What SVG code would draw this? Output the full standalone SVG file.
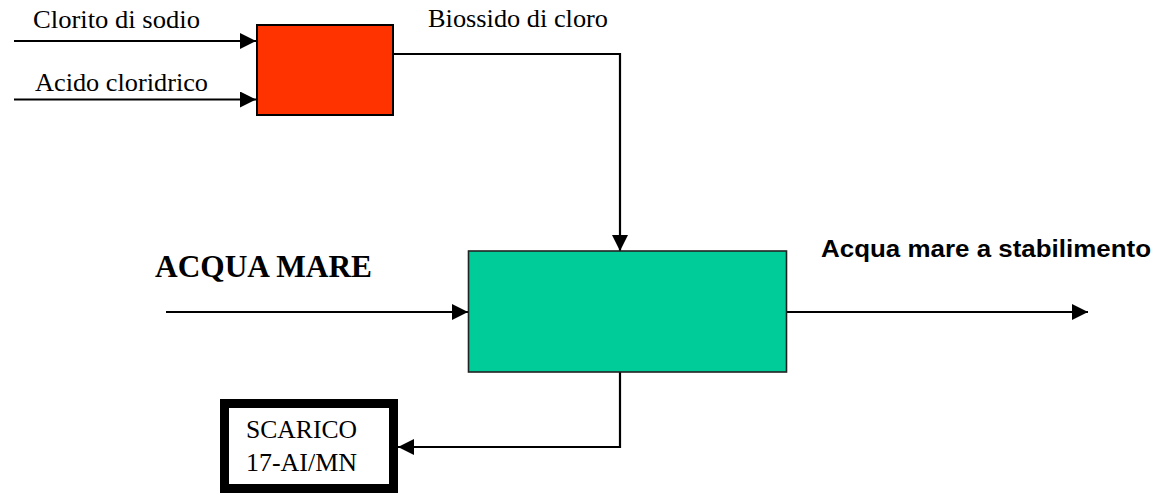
<svg xmlns="http://www.w3.org/2000/svg" width="1165" height="495" viewBox="0 0 1165 495">
<style>
.serif{font-family:"Liberation Serif","Times New Roman",serif;fill:#000}
.sans{font-family:"Liberation Sans",Arial,sans-serif;fill:#000}
.conn{fill:none;stroke:#000;stroke-width:2.2}
</style>
<defs>
<marker id="arr" markerUnits="userSpaceOnUse" markerWidth="17" markerHeight="17" refX="16" refY="8" orient="auto">
<path d="M0,0 L16,8 L0,16 z" fill="#000"/>
</marker>
</defs>
<rect width="1165" height="495" fill="#fff"/>
<g id="connectors">
<path class="conn" d="M14,41 L256,41" marker-end="url(#arr)"/>
<path class="conn" d="M14,99.5 L256,99.5" marker-end="url(#arr)"/>
<path class="conn" d="M393,54 L620,54 L620,251" marker-end="url(#arr)"/>
<path class="conn" d="M166,312 L468,312" marker-end="url(#arr)"/>
<path class="conn" d="M786,312 L1088,312" marker-end="url(#arr)"/>
<path class="conn" d="M620,372 L620,447 L398,447" marker-end="url(#arr)"/>
</g>
<g id="reactor">
<rect x="257" y="25" width="136" height="90" fill="#FF3300" stroke="#000" stroke-width="2"/>
</g>
<g id="mixer">
<rect x="468.5" y="251" width="318" height="121" fill="#00CC99" stroke="#222" stroke-width="1.6"/>
</g>
<g id="scarico">
<rect x="224.5" y="403.5" width="169" height="85" fill="#fff" stroke="#000" stroke-width="9"/>
<text class="serif" x="246" y="437.5" font-size="26" textLength="111" lengthAdjust="spacingAndGlyphs">SCARICO</text>
<text class="serif" x="246" y="471" font-size="26" textLength="111" lengthAdjust="spacingAndGlyphs">17-AI/MN</text>
</g>
<g id="labels">
<text class="serif" x="33" y="28" font-size="26" textLength="167" lengthAdjust="spacingAndGlyphs">Clorito di sodio</text>
<text class="serif" x="35" y="90.5" font-size="26" textLength="173" lengthAdjust="spacingAndGlyphs">Acido cloridrico</text>
<text class="serif" x="428" y="26.5" font-size="26" textLength="180" lengthAdjust="spacingAndGlyphs">Biossido di cloro</text>
<text class="serif" x="155" y="276.5" font-size="31" font-weight="bold" textLength="217" lengthAdjust="spacingAndGlyphs">ACQUA MARE</text>
<text class="sans" x="821" y="256.5" font-size="23" font-weight="bold" textLength="330" lengthAdjust="spacingAndGlyphs">Acqua mare a stabilimento</text>
</g>
</svg>
